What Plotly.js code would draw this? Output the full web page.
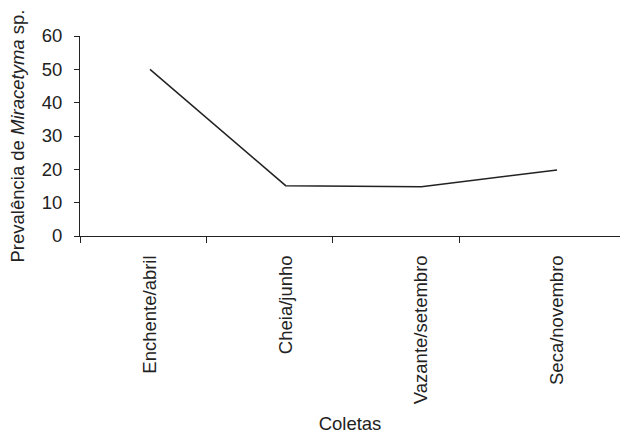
<!DOCTYPE html>
<html>
<head>
<meta charset="utf-8">
<script src="https://cdn.plot.ly/plotly-3.0.1.min.js"></script>
<style>html,body{margin:0;padding:0;background:#fff;}#chart{width:620px;height:435px;}</style>
</head>
<body>
<div id="chart"></div>
<script>
var categories = ["Enchente/abril", "Cheia/junho", "Vazante/setembro", "Seca/novembro"];
var prevalence = [50, 15.1, 14.8, 19.8];
var yTicks = [0, 10, 20, 30, 40, 50, 60];

var font = {family: "Liberation Sans, Arial, sans-serif", size: 18.5, color: "#222"};
var xRange = [-0.516, 3.464];

var trace = {
  x: categories.map(function(c, i){ return i; }),
  y: prevalence,
  type: "scatter",
  mode: "lines",
  line: {color: "#222", width: 1.5},
  hoverinfo: "skip"
};
// invisible trace to activate the overlay tick axis
var tickTrace = {x: [0], y: [0], xaxis: "x2", mode: "markers", marker: {opacity: 0}, hoverinfo: "skip", showlegend: false};

var layout = {
  width: 620, height: 435,
  margin: {l: 80, r: 0, t: 36, b: 199},
  paper_bgcolor: "#fff", plot_bgcolor: "#fff",
  showlegend: false,
  font: font,
  xaxis: {
    range: xRange,
    tickvals: [0, 1, 2, 3],
    ticktext: categories,
    tickangle: -90,
    ticks: "",
    ticklabelstandoff: 11,
    showgrid: false, zeroline: false,
    showline: true, linecolor: "#222", linewidth: 1,
    tickfont: font,
    title: {text: "Coletas", font: font, standoff: 13},
    automargin: false
  },
  xaxis2: {
    overlaying: "x", anchor: "y", side: "bottom",
    range: xRange,
    tickvals: [-0.516, 0.413, 1.348, 2.284],
    ticks: "outside", ticklen: 6, tickcolor: "#222", tickwidth: 1,
    showticklabels: false, showgrid: false, zeroline: false, showline: false
  },
  yaxis: {
    range: [0, 60],
    tickvals: yTicks,
    ticks: "outside", ticklen: 5, tickcolor: "#222", tickwidth: 1,
    showgrid: false, zeroline: false,
    showline: true, linecolor: "#222", linewidth: 1,
    tickfont: font,
    ticklabelstandoff: 8,
    title: {text: "Prevalência de <i>Miracetyma</i> sp.", font: font, standoff: 12},
    automargin: false
  }
};

Plotly.newPlot("chart", [trace, tickTrace], layout, {displayModeBar: false, staticPlot: true});
</script>
</body>
</html>
